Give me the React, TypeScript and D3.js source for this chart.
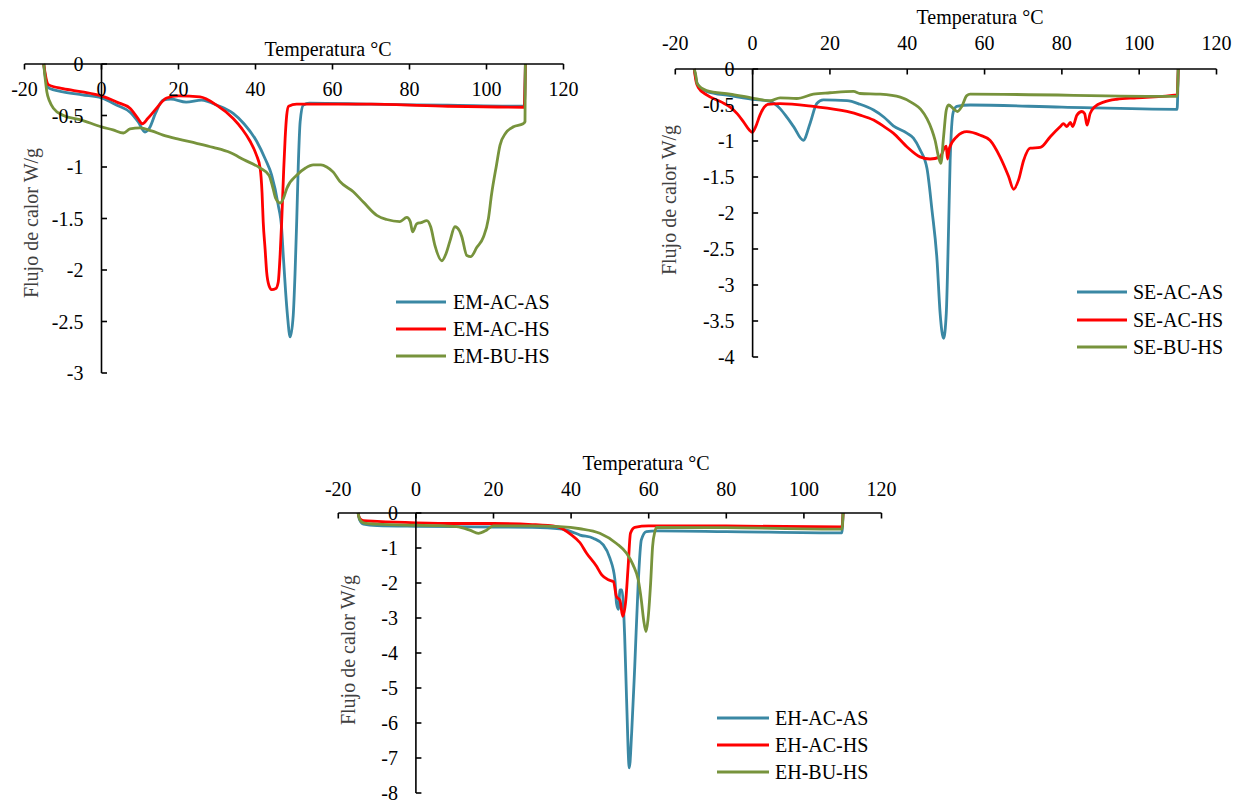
import React from "react";
import * as d3 from "d3";

type Pt = [number, number];

const TEMP_TICKS = [-20, 0, 20, 40, 60, 80, 100, 120];
const EM_Y_TICKS = [0, -0.5, -1, -1.5, -2, -2.5, -3];
const SE_Y_TICKS = [0, -0.5, -1, -1.5, -2, -2.5, -3, -3.5, -4];
const EH_Y_TICKS = [0, -1, -2, -3, -4, -5, -6, -7, -8];

const X_TITLE = "Temperatura °C";
const Y_TITLE = "Flujo de calor W/g";

const EM_NAMES = ["EM-AC-AS", "EM-AC-HS", "EM-BU-HS"];
const SE_NAMES = ["SE-AC-AS", "SE-AC-HS", "SE-BU-HS"];
const EH_NAMES = ["EH-AC-AS", "EH-AC-HS", "EH-BU-HS"];

const EM_AC_AS: Pt[] = [[-15,0],[-14.6,-0.12],[-13.8,-0.23],[-10,-0.27],[-5,-0.3],[0,-0.33],[4,-0.4],[7.5,-0.47],[9.5,-0.56],[11.3,-0.66],[12.5,-0.62],[14,-0.48],[16,-0.35],[18,-0.34],[22,-0.37],[26,-0.35],[30,-0.4],[34.2,-0.48],[37,-0.58],[40.3,-0.75],[42.5,-0.92],[44.2,-1.08],[45.9,-1.37],[46.8,-1.6],[47.2,-1.85],[47.8,-2.2],[48.3,-2.44],[49,-2.65],[49.8,-2.44],[50.3,-2.0],[50.7,-1.53],[51.1,-1.0],[51.6,-0.56],[52.4,-0.4],[54,-0.38],[70,-0.39],[90,-0.4],[109.8,-0.41],[110.1,0]];
const EM_AC_HS: Pt[] = [[-15,0],[-14.6,-0.1],[-13.8,-0.2],[-10,-0.24],[-5,-0.27],[0,-0.31],[4,-0.37],[7.4,-0.43],[9.5,-0.53],[10.6,-0.58],[12,-0.53],[14.3,-0.43],[16.9,-0.33],[20,-0.31],[25.6,-0.32],[29.9,-0.4],[34.2,-0.53],[36.5,-0.63],[38.6,-0.75],[40.2,-0.88],[41.2,-1.01],[41.7,-1.25],[42,-1.53],[42.5,-1.8],[42.9,-2.02],[43.5,-2.15],[44.2,-2.19],[45.3,-2.18],[45.9,-2.12],[46.4,-1.85],[46.8,-1.53],[47.3,-1.05],[47.7,-0.72],[48.1,-0.5],[48.6,-0.41],[50.7,-0.39],[70,-0.39],[90,-0.41],[109.8,-0.42],[110.1,0]];
const EM_BU_HS: Pt[] = [[-15,0],[-14.6,-0.15],[-14.2,-0.27],[-13.5,-0.36],[-12.5,-0.43],[-9.9,-0.5],[-5.6,-0.54],[0,-0.61],[3,-0.64],[5.7,-0.67],[7.4,-0.63],[10,-0.62],[13,-0.65],[16,-0.69],[20,-0.73],[24.7,-0.77],[29,-0.81],[33.4,-0.86],[37,-0.93],[41.2,-1.01],[43.5,-1.08],[44.5,-1.2],[45.2,-1.3],[46.4,-1.35],[47.3,-1.3],[48.1,-1.21],[50.7,-1.08],[53,-1.01],[55,-0.98],[57,-0.98],[58.5,-1.0],[60.2,-1.05],[61.9,-1.14],[65.4,-1.24],[68,-1.34],[71.5,-1.47],[74.1,-1.51],[77.5,-1.53],[79.3,-1.49],[80.2,-1.53],[80.8,-1.63],[81.9,-1.55],[83,-1.54],[84.5,-1.52],[85.5,-1.58],[86.6,-1.76],[88.4,-1.91],[89.5,-1.84],[90.5,-1.72],[91.8,-1.58],[93,-1.62],[93.6,-1.68],[94.9,-1.86],[95.9,-1.87],[97.5,-1.78],[99.2,-1.68],[100.5,-1.5],[101.3,-1.27],[102.6,-0.98],[103.5,-0.79],[105,-0.67],[107,-0.61],[109.5,-0.58],[110,-0.56],[110.1,0]];

const SE_AC_AS: Pt[] = [[-15.1,0],[-14.6,-0.15],[-14,-0.24],[-11.9,-0.31],[-5.8,-0.37],[0,-0.42],[4.5,-0.45],[7.1,-0.55],[9,-0.68],[10.6,-0.8],[13.1,-0.99],[14.9,-0.75],[16.6,-0.48],[18.3,-0.43],[24.4,-0.44],[27.8,-0.49],[31.3,-0.57],[34,-0.67],[36.4,-0.79],[39.9,-0.89],[41.6,-0.96],[43.3,-1.12],[45.1,-1.38],[46.4,-1.96],[47.7,-2.65],[48.5,-3.39],[49.4,-3.74],[50.1,-3.39],[50.7,-2.19],[51.1,-1.27],[51.9,-0.6],[52.8,-0.52],[56.3,-0.5],[80,-0.53],[109.8,-0.56],[110.1,0]];
const SE_AC_HS: Pt[] = [[-15.1,0],[-14.6,-0.18],[-14,-0.26],[-11.9,-0.36],[-8,-0.46],[-5.8,-0.53],[-4,-0.62],[-2.4,-0.73],[-0.8,-0.85],[-0.1,-0.88],[0.8,-0.8],[1.9,-0.64],[3,-0.53],[3.9,-0.49],[7.1,-0.48],[15.7,-0.52],[24.4,-0.59],[27.8,-0.64],[31.3,-0.71],[34,-0.8],[36.4,-0.89],[39.9,-1.08],[43.3,-1.22],[45.9,-1.25],[48.5,-1.22],[49.6,-1.1],[50.1,-1.07],[50.4,-1.25],[50.9,-1.1],[52.8,-0.94],[55.4,-0.87],[58.9,-0.92],[61.4,-0.99],[64,-1.22],[66.2,-1.49],[67.5,-1.67],[68.8,-1.54],[70.1,-1.27],[71.8,-1.1],[74.4,-1.09],[77,-0.94],[79.6,-0.8],[80.4,-0.76],[81.3,-0.8],[82.2,-0.74],[82.8,-0.8],[83.9,-0.64],[85.2,-0.59],[85.9,-0.62],[86.5,-0.78],[87.3,-0.62],[88.6,-0.52],[90.8,-0.46],[94.2,-0.42],[99.4,-0.4],[109.8,-0.36],[110.1,0]];
const SE_BU_HS: Pt[] = [[-15.1,0],[-14.6,-0.12],[-14.4,-0.2],[-11.9,-0.3],[-5.8,-0.35],[-0.4,-0.4],[4.5,-0.44],[7.1,-0.4],[11.4,-0.41],[15.7,-0.35],[20,-0.33],[26.1,-0.31],[27.8,-0.34],[33,-0.35],[38.2,-0.39],[41.6,-0.48],[43.5,-0.56],[45.1,-0.69],[46.4,-0.85],[47.2,-0.99],[48.1,-1.22],[48.7,-1.31],[49.4,-0.94],[50.1,-0.57],[50.7,-0.5],[51.9,-0.55],[53,-0.59],[54.1,-0.52],[55.4,-0.37],[56.3,-0.35],[109.8,-0.38],[110.1,0]];

const EH_AC_AS: Pt[] = [[-14.9,0],[-14.5,-0.2],[-13.5,-0.32],[-10,-0.36],[0,-0.38],[10,-0.39],[20,-0.4],[30,-0.41],[37.1,-0.45],[40,-0.53],[42.3,-0.63],[45.7,-0.72],[48.3,-0.91],[50,-1.29],[51.3,-1.91],[51.7,-2.58],[52.2,-2.75],[52.6,-2.2],[53.1,-2.2],[53.8,-3.5],[54.3,-5.33],[55,-7.28],[55.6,-6.3],[56.4,-4.39],[57.3,-2.0],[58.1,-0.77],[59.4,-0.53],[62,-0.51],[80,-0.53],[109.8,-0.57],[110.1,0]];
const EH_AC_HS: Pt[] = [[-14.9,0],[-14.5,-0.15],[-13.5,-0.22],[-10,-0.24],[0,-0.28],[10,-0.3],[20,-0.3],[30,-0.33],[36.3,-0.39],[40,-0.62],[42.3,-0.85],[44,-1.15],[46.6,-1.53],[47.9,-1.77],[49.6,-1.91],[50.9,-1.96],[51.7,-2.39],[52.6,-2.5],[53.3,-2.95],[54.1,-2.49],[54.7,-1.53],[55.3,-0.58],[56.4,-0.41],[60,-0.37],[80,-0.37],[109.8,-0.4],[110.1,0]];
const EH_BU_HS: Pt[] = [[-14.9,0],[-14.5,-0.18],[-13.5,-0.28],[-10,-0.32],[0,-0.35],[5,-0.36],[10.5,-0.39],[13.9,-0.49],[16.1,-0.58],[18.2,-0.49],[19.9,-0.37],[30,-0.37],[37,-0.39],[42.3,-0.45],[47.4,-0.58],[51.7,-0.87],[54.3,-1.15],[56,-1.49],[57.3,-1.91],[58.1,-2.49],[58.7,-3.06],[59.3,-3.39],[59.8,-3.06],[60.5,-2.0],[61,-0.96],[61.6,-0.53],[62,-0.41],[80,-0.42],[109.8,-0.46],[110.1,0]];

const COLORS = ["#3a88a4", "#ff0000", "#77933c"];
const FONT = "'Liberation Serif', 'Times New Roman', serif";

interface ChartProps {
  xRange: [number, number];
  yRange: [number, number];
  yMin: number;
  yTicks: number[];
  labelY: number;
  title: [number, number];
  yTitle: [number, number];
  legendX: [number, number, number];
  legendY: number[];
  names: string[];
  series: Pt[][];
}

function Chart(p: ChartProps) {
  const x = d3.scaleLinear().domain([-20, 120]).range(p.xRange);
  const y = d3.scaleLinear().domain([0, p.yMin]).range(p.yRange);
  const line = d3
    .line<Pt>()
    .x((d) => x(d[0]))
    .y((d) => y(d[1]))
    .curve(d3.curveMonotoneX);
  const x0 = x(0);
  const yAxis = y(0);
  const fmt = (v: number) => String(v).replace("-", "-");
  return (
    <g fontFamily={FONT} fontSize={20} fill="#000">
      {p.series.map((s, i) => (
        <path key={i} d={line(s) || ""} fill="none" stroke={COLORS[i]} strokeWidth={2.8} strokeLinejoin="round" />
      ))}
      <line x1={x(-20)} x2={x(120)} y1={yAxis} y2={yAxis} stroke="#000" strokeWidth={1.6} />
      {TEMP_TICKS.map((t) => (
        <g key={t}>
          <line x1={x(t)} x2={x(t)} y1={yAxis} y2={yAxis + 5.5} stroke="#000" strokeWidth={1.6} />
          <text x={x(t)} y={p.labelY} textAnchor="middle" dominantBaseline="central">{fmt(t)}</text>
        </g>
      ))}
      <line x1={x0} x2={x0} y1={yAxis} y2={y(p.yMin)} stroke="#000" strokeWidth={1.6} />
      {p.yTicks.map((v) => (
        <g key={v}>
          <line x1={x0} x2={x0 + 5.5} y1={y(v)} y2={y(v)} stroke="#000" strokeWidth={1.6} />
          <text x={x0 - 18} y={y(v)} textAnchor="end" dominantBaseline="central">{fmt(v)}</text>
        </g>
      ))}
      <text x={p.title[0]} y={p.title[1]} textAnchor="middle" dominantBaseline="central">{X_TITLE}</text>
      <text
        transform={`translate(${p.yTitle[0]},${p.yTitle[1]}) rotate(-90)`}
        textAnchor="middle"
        dominantBaseline="central"
        fill="#404040"
      >
        {Y_TITLE}
      </text>
      {p.names.map((n, i) => (
        <g key={n}>
          <line x1={p.legendX[0]} x2={p.legendX[1]} y1={p.legendY[i]} y2={p.legendY[i]} stroke={COLORS[i]} strokeWidth={3} />
          <text x={p.legendX[2]} y={p.legendY[i]} dominantBaseline="central">{n}</text>
        </g>
      ))}
    </g>
  );
}

export default function App() {
  return (
    <svg width={1244} height={804} style={{ position: "absolute", left: 0, top: 0, background: "#fff" }}>
      <rect width={1244} height={804} fill="#fff" />
      <Chart
        xRange={[24.5, 563.5]}
        yRange={[64, 373]}
        yMin={-3}
        yTicks={EM_Y_TICKS}
        labelY={89}
        title={[328, 49]}
        yTitle={[31, 223]}
        legendX={[396, 446, 453]}
        legendY={[302, 329, 356]}
        names={EM_NAMES}
        series={[EM_AC_AS, EM_AC_HS, EM_BU_HS]}
      />
      <Chart
        xRange={[675.3, 1216.5]}
        yRange={[69, 357]}
        yMin={-4}
        yTicks={SE_Y_TICKS}
        labelY={43}
        title={[980, 17]}
        yTitle={[669, 200]}
        legendX={[1077, 1127, 1133]}
        legendY={[292, 320, 347]}
        names={SE_NAMES}
        series={[SE_AC_AS, SE_AC_HS, SE_BU_HS]}
      />
      <Chart
        xRange={[338.3, 881.5]}
        yRange={[513, 793]}
        yMin={-8}
        yTicks={EH_Y_TICKS}
        labelY={489}
        title={[646, 463]}
        yTitle={[348, 650]}
        legendX={[717, 769, 775]}
        legendY={[718, 745, 772]}
        names={EH_NAMES}
        series={[EH_AC_AS, EH_AC_HS, EH_BU_HS]}
      />
    </svg>
  );
}
